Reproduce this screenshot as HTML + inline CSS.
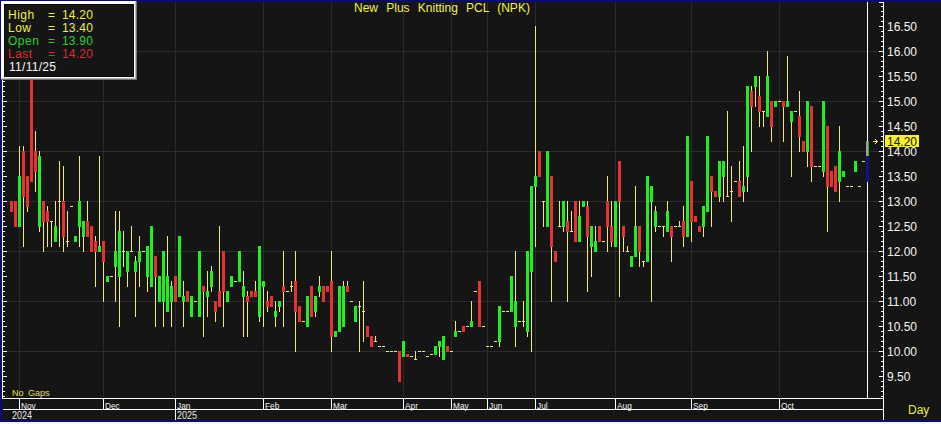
<!DOCTYPE html><html><head><meta charset="utf-8"><style>
html,body{margin:0;padding:0;background:#151515;}
body{width:941px;height:424px;position:relative;overflow:hidden;font-family:"Liberation Sans",sans-serif;}
svg{position:absolute;left:0;top:0;}
.t{position:absolute;white-space:pre;line-height:1;}
.ax{font-size:12px;color:#f4f4ee;left:887px;}
.mo{font-size:9px;color:#f6f6f6;transform:scaleX(0.92);transform-origin:left bottom;}
.yr{font-size:10px;color:#e8e8e8;transform:scaleX(0.9);transform-origin:left bottom;}
.box{position:absolute;left:1px;top:1px;width:130px;height:73px;border:3px solid #fff;border-right-color:#d8d8d8;border-bottom-color:#d8d8d8;background:#151515;}
.bx{font-size:12px;}

</style></head><body>
<svg width="941" height="424" viewBox="0 0 941 424" shape-rendering="crispEdges">
<rect x="3" y="351" width="876" height="1" fill="#2b2b2b"/>
<rect x="3" y="301" width="876" height="1" fill="#2b2b2b"/>
<rect x="3" y="251" width="876" height="1" fill="#2b2b2b"/>
<rect x="3" y="201" width="876" height="1" fill="#2b2b2b"/>
<rect x="3" y="151" width="876" height="1" fill="#2b2b2b"/>
<rect x="3" y="101" width="876" height="1" fill="#2b2b2b"/>
<rect x="3" y="51" width="876" height="1" fill="#2b2b2b"/>
<rect x="19" y="2" width="1" height="396" fill="#2b2b2b"/>
<rect x="103" y="2" width="1" height="396" fill="#2b2b2b"/>
<rect x="175" y="2" width="1" height="396" fill="#2b2b2b"/>
<rect x="263" y="2" width="1" height="396" fill="#2b2b2b"/>
<rect x="331" y="2" width="1" height="396" fill="#2b2b2b"/>
<rect x="403" y="2" width="1" height="396" fill="#2b2b2b"/>
<rect x="451" y="2" width="1" height="396" fill="#2b2b2b"/>
<rect x="487" y="2" width="1" height="396" fill="#2b2b2b"/>
<rect x="535" y="2" width="1" height="396" fill="#2b2b2b"/>
<rect x="615" y="2" width="1" height="396" fill="#2b2b2b"/>
<rect x="691" y="2" width="1" height="396" fill="#2b2b2b"/>
<rect x="779" y="2" width="1" height="396" fill="#2b2b2b"/>
<rect x="11" y="201" width="1" height="11" fill="#f2ea72"/>
<rect x="10" y="201" width="3" height="11" fill="#e83232"/>
<rect x="15" y="201" width="1" height="26" fill="#f2ea72"/>
<rect x="14" y="201" width="3" height="26" fill="#e83232"/>
<rect x="19" y="146" width="1" height="81" fill="#f2ea72"/>
<rect x="18" y="176" width="3" height="51" fill="#20ee20"/>
<rect x="23" y="146" width="1" height="101" fill="#f2ea72"/>
<rect x="22" y="151" width="3" height="46" fill="#e83232"/>
<rect x="27" y="176" width="1" height="36" fill="#f2ea72"/>
<rect x="26" y="176" width="3" height="31" fill="#e83232"/>
<rect x="31" y="71" width="1" height="111" fill="#f2ea72"/>
<rect x="30" y="71" width="3" height="111" fill="#e83232"/>
<rect x="35" y="131" width="1" height="61" fill="#f2ea72"/>
<rect x="34" y="151" width="3" height="21" fill="#e83232"/>
<rect x="39" y="151" width="1" height="81" fill="#f2ea72"/>
<rect x="38" y="156" width="3" height="71" fill="#20ee20"/>
<rect x="43" y="201" width="1" height="51" fill="#f2ea72"/>
<rect x="42" y="201" width="3" height="21" fill="#e83232"/>
<rect x="47" y="206" width="1" height="41" fill="#f2ea72"/>
<rect x="46" y="211" width="3" height="11" fill="#e83232"/>
<rect x="51" y="221" width="1" height="26" fill="#f2ea72"/>
<rect x="50" y="221" width="3" height="1" fill="#f2ea72"/>
<rect x="55" y="201" width="1" height="41" fill="#f2ea72"/>
<rect x="54" y="226" width="3" height="16" fill="#20ee20"/>
<rect x="59" y="161" width="1" height="86" fill="#f2ea72"/>
<rect x="58" y="201" width="3" height="1" fill="#f2ea72"/>
<rect x="63" y="166" width="1" height="86" fill="#f2ea72"/>
<rect x="62" y="201" width="3" height="36" fill="#e83232"/>
<rect x="67" y="211" width="1" height="36" fill="#f2ea72"/>
<rect x="66" y="241" width="3" height="1" fill="#f2ea72"/>
<rect x="70" y="206" width="3" height="1" fill="#f2ea72"/>
<rect x="75" y="236" width="1" height="6" fill="#f2ea72"/>
<rect x="74" y="236" width="3" height="6" fill="#20ee20"/>
<rect x="79" y="156" width="1" height="91" fill="#f2ea72"/>
<rect x="78" y="201" width="3" height="26" fill="#20ee20"/>
<rect x="83" y="221" width="1" height="31" fill="#f2ea72"/>
<rect x="82" y="221" width="3" height="16" fill="#20ee20"/>
<rect x="87" y="201" width="1" height="36" fill="#f2ea72"/>
<rect x="86" y="221" width="3" height="16" fill="#e83232"/>
<rect x="91" y="226" width="1" height="26" fill="#f2ea72"/>
<rect x="90" y="226" width="3" height="26" fill="#e83232"/>
<rect x="95" y="236" width="1" height="51" fill="#f2ea72"/>
<rect x="94" y="241" width="3" height="11" fill="#e83232"/>
<rect x="99" y="156" width="1" height="96" fill="#f2ea72"/>
<rect x="98" y="246" width="3" height="6" fill="#20ee20"/>
<rect x="103" y="241" width="1" height="61" fill="#f2ea72"/>
<rect x="102" y="241" width="3" height="21" fill="#e83232"/>
<rect x="107" y="276" width="1" height="6" fill="#f2ea72"/>
<rect x="106" y="276" width="3" height="6" fill="#20ee20"/>
<rect x="110" y="276" width="3" height="1" fill="#f2ea72"/>
<rect x="115" y="211" width="1" height="91" fill="#f2ea72"/>
<rect x="114" y="251" width="3" height="16" fill="#20ee20"/>
<rect x="119" y="211" width="1" height="116" fill="#f2ea72"/>
<rect x="118" y="231" width="3" height="46" fill="#20ee20"/>
<rect x="123" y="231" width="1" height="36" fill="#f2ea72"/>
<rect x="122" y="251" width="3" height="1" fill="#f2ea72"/>
<rect x="127" y="251" width="1" height="36" fill="#f2ea72"/>
<rect x="126" y="251" width="3" height="21" fill="#20ee20"/>
<rect x="131" y="226" width="1" height="26" fill="#f2ea72"/>
<rect x="130" y="251" width="3" height="1" fill="#f2ea72"/>
<rect x="135" y="256" width="1" height="61" fill="#f2ea72"/>
<rect x="134" y="261" width="3" height="11" fill="#20ee20"/>
<rect x="139" y="236" width="1" height="51" fill="#f2ea72"/>
<rect x="138" y="251" width="3" height="11" fill="#20ee20"/>
<rect x="142" y="251" width="3" height="1" fill="#f2ea72"/>
<rect x="147" y="246" width="1" height="46" fill="#f2ea72"/>
<rect x="146" y="246" width="3" height="31" fill="#20ee20"/>
<rect x="151" y="226" width="1" height="61" fill="#f2ea72"/>
<rect x="150" y="226" width="3" height="61" fill="#20ee20"/>
<rect x="155" y="256" width="1" height="71" fill="#f2ea72"/>
<rect x="154" y="256" width="3" height="21" fill="#e83232"/>
<rect x="159" y="276" width="1" height="26" fill="#f2ea72"/>
<rect x="158" y="276" width="3" height="26" fill="#20ee20"/>
<rect x="163" y="251" width="1" height="76" fill="#f2ea72"/>
<rect x="162" y="251" width="3" height="51" fill="#20ee20"/>
<rect x="167" y="236" width="1" height="76" fill="#f2ea72"/>
<rect x="166" y="276" width="3" height="36" fill="#20ee20"/>
<rect x="171" y="281" width="1" height="46" fill="#f2ea72"/>
<rect x="170" y="286" width="3" height="16" fill="#20ee20"/>
<rect x="175" y="276" width="1" height="26" fill="#f2ea72"/>
<rect x="174" y="276" width="3" height="26" fill="#e83232"/>
<rect x="179" y="236" width="1" height="61" fill="#f2ea72"/>
<rect x="178" y="236" width="3" height="61" fill="#20ee20"/>
<rect x="183" y="281" width="1" height="46" fill="#f2ea72"/>
<rect x="182" y="296" width="3" height="6" fill="#20ee20"/>
<rect x="187" y="291" width="1" height="11" fill="#f2ea72"/>
<rect x="186" y="291" width="3" height="11" fill="#e83232"/>
<rect x="191" y="296" width="1" height="21" fill="#f2ea72"/>
<rect x="190" y="296" width="3" height="21" fill="#20ee20"/>
<rect x="194" y="301" width="3" height="1" fill="#f2ea72"/>
<rect x="199" y="251" width="1" height="66" fill="#f2ea72"/>
<rect x="198" y="251" width="3" height="66" fill="#20ee20"/>
<rect x="203" y="286" width="1" height="51" fill="#f2ea72"/>
<rect x="202" y="286" width="3" height="6" fill="#e83232"/>
<rect x="207" y="271" width="1" height="46" fill="#f2ea72"/>
<rect x="206" y="291" width="3" height="6" fill="#20ee20"/>
<rect x="211" y="266" width="1" height="26" fill="#f2ea72"/>
<rect x="210" y="271" width="3" height="16" fill="#20ee20"/>
<rect x="215" y="301" width="1" height="21" fill="#f2ea72"/>
<rect x="214" y="301" width="3" height="11" fill="#e83232"/>
<rect x="219" y="226" width="1" height="81" fill="#f2ea72"/>
<rect x="218" y="291" width="3" height="16" fill="#e83232"/>
<rect x="223" y="251" width="1" height="76" fill="#f2ea72"/>
<rect x="222" y="251" width="3" height="41" fill="#e83232"/>
<rect x="227" y="291" width="1" height="11" fill="#f2ea72"/>
<rect x="226" y="291" width="3" height="11" fill="#20ee20"/>
<rect x="231" y="276" width="1" height="11" fill="#f2ea72"/>
<rect x="230" y="276" width="3" height="11" fill="#20ee20"/>
<rect x="234" y="281" width="3" height="1" fill="#f2ea72"/>
<rect x="239" y="251" width="1" height="31" fill="#f2ea72"/>
<rect x="238" y="251" width="3" height="31" fill="#20ee20"/>
<rect x="243" y="271" width="1" height="66" fill="#f2ea72"/>
<rect x="242" y="286" width="3" height="11" fill="#20ee20"/>
<rect x="247" y="291" width="1" height="46" fill="#f2ea72"/>
<rect x="246" y="296" width="3" height="6" fill="#e83232"/>
<rect x="251" y="291" width="1" height="6" fill="#f2ea72"/>
<rect x="250" y="291" width="3" height="6" fill="#e83232"/>
<rect x="255" y="281" width="1" height="16" fill="#f2ea72"/>
<rect x="254" y="291" width="3" height="6" fill="#e83232"/>
<rect x="259" y="246" width="1" height="76" fill="#f2ea72"/>
<rect x="258" y="246" width="3" height="71" fill="#20ee20"/>
<rect x="263" y="281" width="1" height="46" fill="#f2ea72"/>
<rect x="262" y="281" width="3" height="6" fill="#20ee20"/>
<rect x="267" y="291" width="1" height="21" fill="#f2ea72"/>
<rect x="266" y="301" width="3" height="6" fill="#e83232"/>
<rect x="271" y="296" width="1" height="11" fill="#f2ea72"/>
<rect x="270" y="296" width="3" height="11" fill="#e83232"/>
<rect x="275" y="301" width="1" height="26" fill="#f2ea72"/>
<rect x="274" y="311" width="3" height="6" fill="#20ee20"/>
<rect x="279" y="301" width="1" height="11" fill="#f2ea72"/>
<rect x="278" y="301" width="3" height="6" fill="#20ee20"/>
<rect x="283" y="251" width="1" height="76" fill="#f2ea72"/>
<rect x="282" y="286" width="3" height="6" fill="#e83232"/>
<rect x="286" y="291" width="3" height="1" fill="#f2ea72"/>
<rect x="291" y="281" width="1" height="11" fill="#f2ea72"/>
<rect x="290" y="286" width="3" height="1" fill="#f2ea72"/>
<rect x="295" y="251" width="1" height="101" fill="#f2ea72"/>
<rect x="294" y="281" width="3" height="31" fill="#e83232"/>
<rect x="299" y="306" width="1" height="16" fill="#f2ea72"/>
<rect x="298" y="306" width="3" height="16" fill="#e83232"/>
<rect x="302" y="321" width="3" height="1" fill="#f2ea72"/>
<rect x="307" y="296" width="1" height="31" fill="#f2ea72"/>
<rect x="306" y="296" width="3" height="31" fill="#20ee20"/>
<rect x="311" y="286" width="1" height="31" fill="#f2ea72"/>
<rect x="310" y="286" width="3" height="31" fill="#e83232"/>
<rect x="315" y="296" width="1" height="21" fill="#f2ea72"/>
<rect x="314" y="296" width="3" height="16" fill="#20ee20"/>
<rect x="319" y="276" width="1" height="21" fill="#f2ea72"/>
<rect x="318" y="286" width="3" height="6" fill="#20ee20"/>
<rect x="323" y="286" width="1" height="16" fill="#f2ea72"/>
<rect x="322" y="286" width="3" height="16" fill="#e83232"/>
<rect x="327" y="286" width="1" height="6" fill="#f2ea72"/>
<rect x="326" y="286" width="3" height="6" fill="#e83232"/>
<rect x="331" y="251" width="1" height="101" fill="#f2ea72"/>
<rect x="330" y="281" width="3" height="56" fill="#e83232"/>
<rect x="335" y="331" width="1" height="6" fill="#f2ea72"/>
<rect x="334" y="331" width="3" height="6" fill="#20ee20"/>
<rect x="339" y="286" width="1" height="46" fill="#f2ea72"/>
<rect x="338" y="286" width="3" height="46" fill="#20ee20"/>
<rect x="343" y="281" width="1" height="46" fill="#f2ea72"/>
<rect x="342" y="286" width="3" height="41" fill="#20ee20"/>
<rect x="347" y="281" width="1" height="11" fill="#f2ea72"/>
<rect x="346" y="286" width="3" height="6" fill="#e83232"/>
<rect x="350" y="301" width="3" height="1" fill="#f2ea72"/>
<rect x="355" y="306" width="1" height="16" fill="#f2ea72"/>
<rect x="354" y="306" width="3" height="16" fill="#20ee20"/>
<rect x="359" y="301" width="1" height="51" fill="#f2ea72"/>
<rect x="358" y="306" width="3" height="1" fill="#f2ea72"/>
<rect x="363" y="281" width="1" height="61" fill="#f2ea72"/>
<rect x="362" y="311" width="3" height="1" fill="#f2ea72"/>
<rect x="367" y="326" width="1" height="11" fill="#f2ea72"/>
<rect x="366" y="326" width="3" height="11" fill="#e83232"/>
<rect x="371" y="336" width="1" height="11" fill="#f2ea72"/>
<rect x="370" y="336" width="3" height="11" fill="#e83232"/>
<rect x="375" y="336" width="1" height="6" fill="#f2ea72"/>
<rect x="374" y="341" width="3" height="1" fill="#f2ea72"/>
<rect x="378" y="346" width="3" height="1" fill="#f2ea72"/>
<rect x="382" y="346" width="3" height="1" fill="#f2ea72"/>
<rect x="386" y="351" width="3" height="1" fill="#f2ea72"/>
<rect x="390" y="351" width="3" height="1" fill="#f2ea72"/>
<rect x="394" y="351" width="3" height="1" fill="#f2ea72"/>
<rect x="399" y="351" width="1" height="31" fill="#f2ea72"/>
<rect x="398" y="351" width="3" height="31" fill="#e83232"/>
<rect x="403" y="341" width="1" height="16" fill="#f2ea72"/>
<rect x="402" y="341" width="3" height="16" fill="#20ee20"/>
<rect x="407" y="353.5" width="1" height="3.5" fill="#f2ea72"/>
<rect x="406" y="353.5" width="3" height="3.5" fill="#e83232"/>
<rect x="410" y="356" width="3" height="1" fill="#f2ea72"/>
<rect x="415" y="351" width="1" height="8.5" fill="#f2ea72"/>
<rect x="414" y="358.5" width="3" height="1" fill="#f2ea72"/>
<rect x="418" y="351" width="3" height="1" fill="#f2ea72"/>
<rect x="422" y="351" width="3" height="1" fill="#f2ea72"/>
<rect x="426" y="356" width="3" height="1" fill="#f2ea72"/>
<rect x="430" y="353.5" width="3" height="1" fill="#f2ea72"/>
<rect x="435" y="346" width="1" height="8.5" fill="#f2ea72"/>
<rect x="434" y="346" width="3" height="8.5" fill="#20ee20"/>
<rect x="439" y="341" width="1" height="16" fill="#f2ea72"/>
<rect x="438" y="341" width="3" height="6" fill="#20ee20"/>
<rect x="443" y="336" width="1" height="23.5" fill="#f2ea72"/>
<rect x="442" y="336" width="3" height="23.5" fill="#20ee20"/>
<rect x="447" y="346" width="1" height="6" fill="#f2ea72"/>
<rect x="446" y="346" width="3" height="6" fill="#e83232"/>
<rect x="450" y="351" width="3" height="1" fill="#f2ea72"/>
<rect x="455" y="321" width="1" height="16" fill="#f2ea72"/>
<rect x="454" y="331" width="3" height="6" fill="#20ee20"/>
<rect x="458" y="331" width="3" height="1" fill="#f2ea72"/>
<rect x="463" y="326" width="1" height="6" fill="#f2ea72"/>
<rect x="462" y="326" width="3" height="6" fill="#e83232"/>
<rect x="466" y="326" width="3" height="1" fill="#f2ea72"/>
<rect x="471" y="301" width="1" height="26" fill="#f2ea72"/>
<rect x="470" y="321" width="3" height="6" fill="#20ee20"/>
<rect x="474" y="291" width="3" height="1" fill="#f2ea72"/>
<rect x="479" y="281" width="1" height="46" fill="#f2ea72"/>
<rect x="478" y="281" width="3" height="46" fill="#e83232"/>
<rect x="482" y="326" width="3" height="1" fill="#f2ea72"/>
<rect x="486" y="346" width="3" height="1" fill="#f2ea72"/>
<rect x="490" y="346" width="3" height="1" fill="#f2ea72"/>
<rect x="494" y="341" width="3" height="1" fill="#f2ea72"/>
<rect x="499" y="306" width="1" height="41" fill="#f2ea72"/>
<rect x="498" y="306" width="3" height="36" fill="#20ee20"/>
<rect x="502" y="311" width="3" height="1" fill="#f2ea72"/>
<rect x="506" y="311" width="3" height="1" fill="#f2ea72"/>
<rect x="511" y="276" width="1" height="36" fill="#f2ea72"/>
<rect x="510" y="276" width="3" height="36" fill="#20ee20"/>
<rect x="515" y="251" width="1" height="96" fill="#f2ea72"/>
<rect x="514" y="301" width="3" height="26" fill="#20ee20"/>
<rect x="518" y="321" width="3" height="1" fill="#f2ea72"/>
<rect x="523" y="301" width="1" height="26" fill="#f2ea72"/>
<rect x="522" y="321" width="3" height="1" fill="#f2ea72"/>
<rect x="527" y="251" width="1" height="86" fill="#f2ea72"/>
<rect x="526" y="251" width="3" height="81" fill="#20ee20"/>
<rect x="531" y="186" width="1" height="166" fill="#f2ea72"/>
<rect x="530" y="186" width="3" height="86" fill="#20ee20"/>
<rect x="535" y="26" width="1" height="221" fill="#f2ea72"/>
<rect x="534" y="176" width="3" height="11" fill="#20ee20"/>
<rect x="539" y="151" width="1" height="26" fill="#f2ea72"/>
<rect x="538" y="151" width="3" height="26" fill="#e83232"/>
<rect x="543" y="201" width="1" height="26" fill="#f2ea72"/>
<rect x="542" y="201" width="3" height="1" fill="#f2ea72"/>
<rect x="547" y="151" width="1" height="76" fill="#f2ea72"/>
<rect x="546" y="151" width="3" height="76" fill="#20ee20"/>
<rect x="551" y="176" width="1" height="126" fill="#f2ea72"/>
<rect x="550" y="176" width="3" height="71" fill="#e83232"/>
<rect x="555" y="251" width="1" height="11" fill="#f2ea72"/>
<rect x="554" y="251" width="3" height="11" fill="#e83232"/>
<rect x="559" y="201" width="1" height="26" fill="#f2ea72"/>
<rect x="558" y="226" width="3" height="1" fill="#f2ea72"/>
<rect x="563" y="201" width="1" height="31" fill="#f2ea72"/>
<rect x="562" y="201" width="3" height="26" fill="#20ee20"/>
<rect x="567" y="201" width="1" height="101" fill="#f2ea72"/>
<rect x="566" y="221" width="3" height="11" fill="#e83232"/>
<rect x="571" y="211" width="1" height="21" fill="#f2ea72"/>
<rect x="570" y="231" width="3" height="1" fill="#f2ea72"/>
<rect x="575" y="201" width="1" height="41" fill="#f2ea72"/>
<rect x="574" y="201" width="3" height="41" fill="#e83232"/>
<rect x="579" y="201" width="1" height="41" fill="#f2ea72"/>
<rect x="578" y="216" width="3" height="26" fill="#20ee20"/>
<rect x="583" y="201" width="1" height="6" fill="#f2ea72"/>
<rect x="582" y="201" width="3" height="6" fill="#20ee20"/>
<rect x="587" y="201" width="1" height="91" fill="#f2ea72"/>
<rect x="586" y="206" width="3" height="31" fill="#e83232"/>
<rect x="591" y="226" width="1" height="51" fill="#f2ea72"/>
<rect x="590" y="226" width="3" height="21" fill="#20ee20"/>
<rect x="595" y="226" width="1" height="26" fill="#f2ea72"/>
<rect x="594" y="241" width="3" height="11" fill="#20ee20"/>
<rect x="599" y="226" width="1" height="16" fill="#f2ea72"/>
<rect x="598" y="226" width="3" height="16" fill="#e83232"/>
<rect x="602" y="241" width="3" height="1" fill="#f2ea72"/>
<rect x="607" y="176" width="1" height="76" fill="#f2ea72"/>
<rect x="606" y="201" width="3" height="26" fill="#e83232"/>
<rect x="611" y="201" width="1" height="46" fill="#f2ea72"/>
<rect x="610" y="226" width="3" height="16" fill="#e83232"/>
<rect x="615" y="201" width="1" height="46" fill="#f2ea72"/>
<rect x="614" y="201" width="3" height="46" fill="#20ee20"/>
<rect x="619" y="161" width="1" height="136" fill="#f2ea72"/>
<rect x="618" y="161" width="3" height="41" fill="#e83232"/>
<rect x="623" y="226" width="1" height="26" fill="#f2ea72"/>
<rect x="622" y="226" width="3" height="11" fill="#e83232"/>
<rect x="627" y="246" width="1" height="6" fill="#f2ea72"/>
<rect x="626" y="251" width="3" height="1" fill="#f2ea72"/>
<rect x="631" y="256" width="1" height="11" fill="#f2ea72"/>
<rect x="630" y="256" width="3" height="11" fill="#20ee20"/>
<rect x="635" y="186" width="1" height="71" fill="#f2ea72"/>
<rect x="634" y="226" width="3" height="31" fill="#20ee20"/>
<rect x="639" y="226" width="1" height="41" fill="#f2ea72"/>
<rect x="638" y="226" width="3" height="26" fill="#e83232"/>
<rect x="643" y="261" width="1" height="6" fill="#f2ea72"/>
<rect x="642" y="261" width="3" height="1" fill="#f2ea72"/>
<rect x="647" y="176" width="1" height="86" fill="#f2ea72"/>
<rect x="646" y="176" width="3" height="86" fill="#20ee20"/>
<rect x="651" y="186" width="1" height="116" fill="#f2ea72"/>
<rect x="650" y="186" width="3" height="16" fill="#20ee20"/>
<rect x="655" y="206" width="1" height="26" fill="#f2ea72"/>
<rect x="654" y="211" width="3" height="16" fill="#20ee20"/>
<rect x="658" y="226" width="3" height="1" fill="#f2ea72"/>
<rect x="663" y="226" width="1" height="11" fill="#f2ea72"/>
<rect x="662" y="226" width="3" height="1" fill="#f2ea72"/>
<rect x="667" y="201" width="1" height="31" fill="#f2ea72"/>
<rect x="666" y="211" width="3" height="21" fill="#20ee20"/>
<rect x="671" y="226" width="1" height="36" fill="#f2ea72"/>
<rect x="670" y="226" width="3" height="11" fill="#e83232"/>
<rect x="674" y="226" width="3" height="1" fill="#f2ea72"/>
<rect x="679" y="221" width="1" height="6" fill="#f2ea72"/>
<rect x="678" y="226" width="3" height="1" fill="#f2ea72"/>
<rect x="683" y="206" width="1" height="41" fill="#f2ea72"/>
<rect x="682" y="221" width="3" height="16" fill="#e83232"/>
<rect x="687" y="136" width="1" height="101" fill="#f2ea72"/>
<rect x="686" y="136" width="3" height="101" fill="#20ee20"/>
<rect x="691" y="181" width="1" height="61" fill="#f2ea72"/>
<rect x="690" y="181" width="3" height="41" fill="#e83232"/>
<rect x="695" y="216" width="1" height="6" fill="#f2ea72"/>
<rect x="694" y="216" width="3" height="6" fill="#e83232"/>
<rect x="699" y="226" width="1" height="6" fill="#f2ea72"/>
<rect x="698" y="226" width="3" height="6" fill="#e83232"/>
<rect x="703" y="206" width="1" height="31" fill="#f2ea72"/>
<rect x="702" y="206" width="3" height="21" fill="#20ee20"/>
<rect x="707" y="136" width="1" height="76" fill="#f2ea72"/>
<rect x="706" y="136" width="3" height="76" fill="#20ee20"/>
<rect x="711" y="176" width="1" height="51" fill="#f2ea72"/>
<rect x="710" y="176" width="3" height="16" fill="#e83232"/>
<rect x="715" y="191" width="1" height="6" fill="#f2ea72"/>
<rect x="714" y="191" width="3" height="6" fill="#e83232"/>
<rect x="719" y="161" width="1" height="41" fill="#f2ea72"/>
<rect x="718" y="161" width="3" height="36" fill="#20ee20"/>
<rect x="723" y="161" width="1" height="41" fill="#f2ea72"/>
<rect x="722" y="161" width="3" height="16" fill="#20ee20"/>
<rect x="727" y="111" width="1" height="86" fill="#f2ea72"/>
<rect x="726" y="196" width="3" height="1" fill="#f2ea72"/>
<rect x="731" y="166" width="1" height="56" fill="#f2ea72"/>
<rect x="730" y="191" width="3" height="1" fill="#f2ea72"/>
<rect x="734" y="181" width="3" height="1" fill="#f2ea72"/>
<rect x="739" y="161" width="1" height="36" fill="#f2ea72"/>
<rect x="738" y="181" width="3" height="16" fill="#e83232"/>
<rect x="743" y="146" width="1" height="56" fill="#f2ea72"/>
<rect x="742" y="186" width="3" height="6" fill="#20ee20"/>
<rect x="747" y="86" width="1" height="106" fill="#f2ea72"/>
<rect x="746" y="86" width="3" height="91" fill="#20ee20"/>
<rect x="751" y="86" width="1" height="66" fill="#f2ea72"/>
<rect x="750" y="91" width="3" height="16" fill="#e83232"/>
<rect x="755" y="76" width="1" height="31" fill="#f2ea72"/>
<rect x="754" y="76" width="3" height="11" fill="#20ee20"/>
<rect x="759" y="76" width="1" height="51" fill="#f2ea72"/>
<rect x="758" y="96" width="3" height="16" fill="#e83232"/>
<rect x="763" y="111" width="1" height="16" fill="#f2ea72"/>
<rect x="762" y="111" width="3" height="1" fill="#f2ea72"/>
<rect x="767" y="51" width="1" height="66" fill="#f2ea72"/>
<rect x="766" y="76" width="3" height="41" fill="#20ee20"/>
<rect x="771" y="101" width="1" height="41" fill="#f2ea72"/>
<rect x="770" y="101" width="3" height="26" fill="#e83232"/>
<rect x="775" y="101" width="1" height="6" fill="#f2ea72"/>
<rect x="774" y="101" width="3" height="6" fill="#20ee20"/>
<rect x="778" y="101" width="3" height="1" fill="#f2ea72"/>
<rect x="783" y="101" width="1" height="41" fill="#f2ea72"/>
<rect x="782" y="101" width="3" height="6" fill="#e83232"/>
<rect x="787" y="56" width="1" height="51" fill="#f2ea72"/>
<rect x="786" y="101" width="3" height="6" fill="#20ee20"/>
<rect x="791" y="111" width="1" height="66" fill="#f2ea72"/>
<rect x="790" y="111" width="3" height="11" fill="#20ee20"/>
<rect x="794" y="111" width="3" height="1" fill="#f2ea72"/>
<rect x="799" y="91" width="1" height="61" fill="#f2ea72"/>
<rect x="798" y="116" width="3" height="21" fill="#e83232"/>
<rect x="803" y="141" width="1" height="11" fill="#f2ea72"/>
<rect x="802" y="141" width="3" height="11" fill="#e83232"/>
<rect x="807" y="101" width="1" height="66" fill="#f2ea72"/>
<rect x="806" y="101" width="3" height="51" fill="#20ee20"/>
<rect x="811" y="106" width="1" height="76" fill="#f2ea72"/>
<rect x="810" y="106" width="3" height="61" fill="#e83232"/>
<rect x="814" y="166" width="3" height="1" fill="#f2ea72"/>
<rect x="818" y="166" width="3" height="1" fill="#f2ea72"/>
<rect x="823" y="101" width="1" height="76" fill="#f2ea72"/>
<rect x="822" y="101" width="3" height="71" fill="#20ee20"/>
<rect x="827" y="126" width="1" height="106" fill="#f2ea72"/>
<rect x="826" y="126" width="3" height="61" fill="#e83232"/>
<rect x="831" y="171" width="1" height="16" fill="#f2ea72"/>
<rect x="830" y="171" width="3" height="16" fill="#e83232"/>
<rect x="835" y="166" width="1" height="26" fill="#f2ea72"/>
<rect x="834" y="166" width="3" height="26" fill="#e83232"/>
<rect x="839" y="126" width="1" height="76" fill="#f2ea72"/>
<rect x="838" y="151" width="3" height="31" fill="#20ee20"/>
<rect x="843" y="171" width="1" height="6" fill="#f2ea72"/>
<rect x="842" y="171" width="3" height="6" fill="#20ee20"/>
<rect x="846" y="186" width="3" height="1" fill="#f2ea72"/>
<rect x="850" y="186" width="3" height="1" fill="#f2ea72"/>
<rect x="855" y="161" width="1" height="11" fill="#f2ea72"/>
<rect x="854" y="161" width="3" height="11" fill="#20ee20"/>
<rect x="858" y="186" width="3" height="1" fill="#f2ea72"/>
<rect x="862" y="161" width="3" height="1" fill="#f2ea72"/>
<rect x="867" y="2" width="1" height="396" fill="#ffffff"/>
<rect x="866" y="141" width="2" height="15" fill="#a0a0a0"/>
<rect x="868" y="141" width="1" height="15" fill="#2cb02c"/>
<rect x="866" y="156" width="3" height="26" fill="#101090"/>
<rect x="873" y="141" width="5" height="1" fill="#f4ee30"/>
<rect x="876" y="140" width="1" height="1" fill="#f4ee30"/>
<rect x="875" y="139" width="1" height="1" fill="#f4ee30"/>
<rect x="876" y="142" width="1" height="1" fill="#f4ee30"/>
<rect x="875" y="143" width="1" height="1" fill="#f4ee30"/>
<rect x="2" y="2" width="1" height="397" fill="#ffffff"/>
<rect x="883" y="2" width="1" height="418" fill="#ffffff"/>
<rect x="2" y="398" width="882" height="1" fill="#ffffff"/>
<rect x="3" y="409" width="881" height="1" fill="#ffffff"/>
<rect x="3" y="6" width="2" height="1" fill="#ffffff"/>
<rect x="881" y="6" width="2" height="1" fill="#ffffff"/>
<rect x="3" y="11" width="2" height="1" fill="#ffffff"/>
<rect x="881" y="11" width="2" height="1" fill="#ffffff"/>
<rect x="3" y="16" width="2" height="1" fill="#ffffff"/>
<rect x="881" y="16" width="2" height="1" fill="#ffffff"/>
<rect x="3" y="21" width="2" height="1" fill="#ffffff"/>
<rect x="881" y="21" width="2" height="1" fill="#ffffff"/>
<rect x="3" y="26" width="4" height="1" fill="#ffffff"/>
<rect x="879" y="26" width="4" height="1" fill="#ffffff"/>
<rect x="3" y="31" width="2" height="1" fill="#ffffff"/>
<rect x="881" y="31" width="2" height="1" fill="#ffffff"/>
<rect x="3" y="36" width="2" height="1" fill="#ffffff"/>
<rect x="881" y="36" width="2" height="1" fill="#ffffff"/>
<rect x="3" y="41" width="2" height="1" fill="#ffffff"/>
<rect x="881" y="41" width="2" height="1" fill="#ffffff"/>
<rect x="3" y="46" width="2" height="1" fill="#ffffff"/>
<rect x="881" y="46" width="2" height="1" fill="#ffffff"/>
<rect x="3" y="51" width="4" height="1" fill="#ffffff"/>
<rect x="879" y="51" width="4" height="1" fill="#ffffff"/>
<rect x="3" y="56" width="2" height="1" fill="#ffffff"/>
<rect x="881" y="56" width="2" height="1" fill="#ffffff"/>
<rect x="3" y="61" width="2" height="1" fill="#ffffff"/>
<rect x="881" y="61" width="2" height="1" fill="#ffffff"/>
<rect x="3" y="66" width="2" height="1" fill="#ffffff"/>
<rect x="881" y="66" width="2" height="1" fill="#ffffff"/>
<rect x="3" y="71" width="2" height="1" fill="#ffffff"/>
<rect x="881" y="71" width="2" height="1" fill="#ffffff"/>
<rect x="3" y="76" width="4" height="1" fill="#ffffff"/>
<rect x="879" y="76" width="4" height="1" fill="#ffffff"/>
<rect x="3" y="81" width="2" height="1" fill="#ffffff"/>
<rect x="881" y="81" width="2" height="1" fill="#ffffff"/>
<rect x="3" y="86" width="2" height="1" fill="#ffffff"/>
<rect x="881" y="86" width="2" height="1" fill="#ffffff"/>
<rect x="3" y="91" width="2" height="1" fill="#ffffff"/>
<rect x="881" y="91" width="2" height="1" fill="#ffffff"/>
<rect x="3" y="96" width="2" height="1" fill="#ffffff"/>
<rect x="881" y="96" width="2" height="1" fill="#ffffff"/>
<rect x="3" y="101" width="4" height="1" fill="#ffffff"/>
<rect x="879" y="101" width="4" height="1" fill="#ffffff"/>
<rect x="3" y="106" width="2" height="1" fill="#ffffff"/>
<rect x="881" y="106" width="2" height="1" fill="#ffffff"/>
<rect x="3" y="111" width="2" height="1" fill="#ffffff"/>
<rect x="881" y="111" width="2" height="1" fill="#ffffff"/>
<rect x="3" y="116" width="2" height="1" fill="#ffffff"/>
<rect x="881" y="116" width="2" height="1" fill="#ffffff"/>
<rect x="3" y="121" width="2" height="1" fill="#ffffff"/>
<rect x="881" y="121" width="2" height="1" fill="#ffffff"/>
<rect x="3" y="126" width="4" height="1" fill="#ffffff"/>
<rect x="879" y="126" width="4" height="1" fill="#ffffff"/>
<rect x="3" y="131" width="2" height="1" fill="#ffffff"/>
<rect x="881" y="131" width="2" height="1" fill="#ffffff"/>
<rect x="3" y="136" width="2" height="1" fill="#ffffff"/>
<rect x="881" y="136" width="2" height="1" fill="#ffffff"/>
<rect x="3" y="141" width="2" height="1" fill="#ffffff"/>
<rect x="881" y="141" width="2" height="1" fill="#ffffff"/>
<rect x="3" y="146" width="2" height="1" fill="#ffffff"/>
<rect x="881" y="146" width="2" height="1" fill="#ffffff"/>
<rect x="3" y="151" width="4" height="1" fill="#ffffff"/>
<rect x="879" y="151" width="4" height="1" fill="#ffffff"/>
<rect x="3" y="156" width="2" height="1" fill="#ffffff"/>
<rect x="881" y="156" width="2" height="1" fill="#ffffff"/>
<rect x="3" y="161" width="2" height="1" fill="#ffffff"/>
<rect x="881" y="161" width="2" height="1" fill="#ffffff"/>
<rect x="3" y="166" width="2" height="1" fill="#ffffff"/>
<rect x="881" y="166" width="2" height="1" fill="#ffffff"/>
<rect x="3" y="171" width="2" height="1" fill="#ffffff"/>
<rect x="881" y="171" width="2" height="1" fill="#ffffff"/>
<rect x="3" y="176" width="4" height="1" fill="#ffffff"/>
<rect x="879" y="176" width="4" height="1" fill="#ffffff"/>
<rect x="3" y="181" width="2" height="1" fill="#ffffff"/>
<rect x="881" y="181" width="2" height="1" fill="#ffffff"/>
<rect x="3" y="186" width="2" height="1" fill="#ffffff"/>
<rect x="881" y="186" width="2" height="1" fill="#ffffff"/>
<rect x="3" y="191" width="2" height="1" fill="#ffffff"/>
<rect x="881" y="191" width="2" height="1" fill="#ffffff"/>
<rect x="3" y="196" width="2" height="1" fill="#ffffff"/>
<rect x="881" y="196" width="2" height="1" fill="#ffffff"/>
<rect x="3" y="201" width="4" height="1" fill="#ffffff"/>
<rect x="879" y="201" width="4" height="1" fill="#ffffff"/>
<rect x="3" y="206" width="2" height="1" fill="#ffffff"/>
<rect x="881" y="206" width="2" height="1" fill="#ffffff"/>
<rect x="3" y="211" width="2" height="1" fill="#ffffff"/>
<rect x="881" y="211" width="2" height="1" fill="#ffffff"/>
<rect x="3" y="216" width="2" height="1" fill="#ffffff"/>
<rect x="881" y="216" width="2" height="1" fill="#ffffff"/>
<rect x="3" y="221" width="2" height="1" fill="#ffffff"/>
<rect x="881" y="221" width="2" height="1" fill="#ffffff"/>
<rect x="3" y="226" width="4" height="1" fill="#ffffff"/>
<rect x="879" y="226" width="4" height="1" fill="#ffffff"/>
<rect x="3" y="231" width="2" height="1" fill="#ffffff"/>
<rect x="881" y="231" width="2" height="1" fill="#ffffff"/>
<rect x="3" y="236" width="2" height="1" fill="#ffffff"/>
<rect x="881" y="236" width="2" height="1" fill="#ffffff"/>
<rect x="3" y="241" width="2" height="1" fill="#ffffff"/>
<rect x="881" y="241" width="2" height="1" fill="#ffffff"/>
<rect x="3" y="246" width="2" height="1" fill="#ffffff"/>
<rect x="881" y="246" width="2" height="1" fill="#ffffff"/>
<rect x="3" y="251" width="4" height="1" fill="#ffffff"/>
<rect x="879" y="251" width="4" height="1" fill="#ffffff"/>
<rect x="3" y="256" width="2" height="1" fill="#ffffff"/>
<rect x="881" y="256" width="2" height="1" fill="#ffffff"/>
<rect x="3" y="261" width="2" height="1" fill="#ffffff"/>
<rect x="881" y="261" width="2" height="1" fill="#ffffff"/>
<rect x="3" y="266" width="2" height="1" fill="#ffffff"/>
<rect x="881" y="266" width="2" height="1" fill="#ffffff"/>
<rect x="3" y="271" width="2" height="1" fill="#ffffff"/>
<rect x="881" y="271" width="2" height="1" fill="#ffffff"/>
<rect x="3" y="276" width="4" height="1" fill="#ffffff"/>
<rect x="879" y="276" width="4" height="1" fill="#ffffff"/>
<rect x="3" y="281" width="2" height="1" fill="#ffffff"/>
<rect x="881" y="281" width="2" height="1" fill="#ffffff"/>
<rect x="3" y="286" width="2" height="1" fill="#ffffff"/>
<rect x="881" y="286" width="2" height="1" fill="#ffffff"/>
<rect x="3" y="291" width="2" height="1" fill="#ffffff"/>
<rect x="881" y="291" width="2" height="1" fill="#ffffff"/>
<rect x="3" y="296" width="2" height="1" fill="#ffffff"/>
<rect x="881" y="296" width="2" height="1" fill="#ffffff"/>
<rect x="3" y="301" width="4" height="1" fill="#ffffff"/>
<rect x="879" y="301" width="4" height="1" fill="#ffffff"/>
<rect x="3" y="306" width="2" height="1" fill="#ffffff"/>
<rect x="881" y="306" width="2" height="1" fill="#ffffff"/>
<rect x="3" y="311" width="2" height="1" fill="#ffffff"/>
<rect x="881" y="311" width="2" height="1" fill="#ffffff"/>
<rect x="3" y="316" width="2" height="1" fill="#ffffff"/>
<rect x="881" y="316" width="2" height="1" fill="#ffffff"/>
<rect x="3" y="321" width="2" height="1" fill="#ffffff"/>
<rect x="881" y="321" width="2" height="1" fill="#ffffff"/>
<rect x="3" y="326" width="4" height="1" fill="#ffffff"/>
<rect x="879" y="326" width="4" height="1" fill="#ffffff"/>
<rect x="3" y="331" width="2" height="1" fill="#ffffff"/>
<rect x="881" y="331" width="2" height="1" fill="#ffffff"/>
<rect x="3" y="336" width="2" height="1" fill="#ffffff"/>
<rect x="881" y="336" width="2" height="1" fill="#ffffff"/>
<rect x="3" y="341" width="2" height="1" fill="#ffffff"/>
<rect x="881" y="341" width="2" height="1" fill="#ffffff"/>
<rect x="3" y="346" width="2" height="1" fill="#ffffff"/>
<rect x="881" y="346" width="2" height="1" fill="#ffffff"/>
<rect x="3" y="351" width="4" height="1" fill="#ffffff"/>
<rect x="879" y="351" width="4" height="1" fill="#ffffff"/>
<rect x="3" y="356" width="2" height="1" fill="#ffffff"/>
<rect x="881" y="356" width="2" height="1" fill="#ffffff"/>
<rect x="3" y="361" width="2" height="1" fill="#ffffff"/>
<rect x="881" y="361" width="2" height="1" fill="#ffffff"/>
<rect x="3" y="366" width="2" height="1" fill="#ffffff"/>
<rect x="881" y="366" width="2" height="1" fill="#ffffff"/>
<rect x="3" y="371" width="2" height="1" fill="#ffffff"/>
<rect x="881" y="371" width="2" height="1" fill="#ffffff"/>
<rect x="3" y="376" width="4" height="1" fill="#ffffff"/>
<rect x="879" y="376" width="4" height="1" fill="#ffffff"/>
<rect x="3" y="381" width="2" height="1" fill="#ffffff"/>
<rect x="881" y="381" width="2" height="1" fill="#ffffff"/>
<rect x="3" y="386" width="2" height="1" fill="#ffffff"/>
<rect x="881" y="386" width="2" height="1" fill="#ffffff"/>
<rect x="3" y="391" width="2" height="1" fill="#ffffff"/>
<rect x="881" y="391" width="2" height="1" fill="#ffffff"/>
<rect x="3" y="396" width="2" height="1" fill="#ffffff"/>
<rect x="881" y="396" width="2" height="1" fill="#ffffff"/>
<rect x="879" y="2" width="4" height="1" fill="#ffffff"/>
<rect x="19" y="398" width="1" height="11" fill="#ffffff"/>
<rect x="103" y="398" width="1" height="11" fill="#ffffff"/>
<rect x="175" y="398" width="1" height="22" fill="#ffffff"/>
<rect x="263" y="398" width="1" height="11" fill="#ffffff"/>
<rect x="331" y="398" width="1" height="11" fill="#ffffff"/>
<rect x="403" y="398" width="1" height="11" fill="#ffffff"/>
<rect x="451" y="398" width="1" height="11" fill="#ffffff"/>
<rect x="487" y="398" width="1" height="11" fill="#ffffff"/>
<rect x="535" y="398" width="1" height="11" fill="#ffffff"/>
<rect x="615" y="398" width="1" height="11" fill="#ffffff"/>
<rect x="691" y="398" width="1" height="11" fill="#ffffff"/>
<rect x="779" y="398" width="1" height="11" fill="#ffffff"/>
<rect x="0" y="0" width="941" height="2" fill="#0a0a78"/>
<rect x="0" y="0" width="2" height="424" fill="#0a0a78"/>
<rect x="0" y="420" width="941" height="2" fill="#0a0a78"/>
<rect x="0" y="422" width="941" height="2" fill="#f4f4f4"/>
<rect x="1" y="1" width="136" height="79" fill="#ffffff"/>
<rect x="135" y="2" width="1" height="77" fill="#b8b8b8"/>
<rect x="2" y="78" width="134" height="1" fill="#b8b8b8"/>
<rect x="136" y="1" width="1" height="79" fill="#747474"/>
<rect x="1" y="79" width="136" height="1" fill="#747474"/>
<rect x="4" y="4" width="130" height="73" fill="#070707"/>
<rect x="5" y="5" width="128" height="71" fill="#151515"/>
</svg>
<div class="t ax" style="top:21px">16.50</div>
<div class="t ax" style="top:46px">16.00</div>
<div class="t ax" style="top:71px">15.50</div>
<div class="t ax" style="top:96px">15.00</div>
<div class="t ax" style="top:121px">14.50</div>
<div class="t ax" style="top:146px">14.00</div>
<div class="t ax" style="top:171px">13.50</div>
<div class="t ax" style="top:196px">13.00</div>
<div class="t ax" style="top:221px">12.50</div>
<div class="t ax" style="top:246px">12.00</div>
<div class="t ax" style="top:271px">11.50</div>
<div class="t ax" style="top:296px">11.00</div>
<div class="t ax" style="top:321px">10.50</div>
<div class="t ax" style="top:346px">10.00</div>
<div class="t ax" style="top:371px">9.50</div>
<div class="t" style="left:885px;top:135px;width:34px;height:12px;background:#f8f222;"></div>
<div class="t" style="left:887px;top:136px;font-size:12px;color:#141414;">14.20</div>
<div class="t" style="left:354px;top:2px;font-size:12px;color:#f4f43c;word-spacing:4.9px;">New Plus Knitting PCL (NPK)</div>
<div class="t bx" style="left:8px;top:9px;letter-spacing:0.5px;color:#f0f040">High</div>
<div class="t bx" style="left:48px;top:9px;color:#f0f040">=</div>
<div class="t bx" style="left:62px;top:9px;letter-spacing:0.2px;color:#f0f040">14.20</div>
<div class="t bx" style="left:8px;top:22px;letter-spacing:0.5px;color:#f0f040">Low</div>
<div class="t bx" style="left:48px;top:22px;color:#f0f040">=</div>
<div class="t bx" style="left:62px;top:22px;letter-spacing:0.2px;color:#f0f040">13.40</div>
<div class="t bx" style="left:8px;top:35px;letter-spacing:0.5px;color:#28d228">Open</div>
<div class="t bx" style="left:48px;top:35px;color:#28d228">=</div>
<div class="t bx" style="left:62px;top:35px;letter-spacing:0.2px;color:#28d228">13.90</div>
<div class="t bx" style="left:8px;top:48px;letter-spacing:0.5px;color:#dc3030">Last</div>
<div class="t bx" style="left:48px;top:48px;color:#dc3030">=</div>
<div class="t bx" style="left:62px;top:48px;letter-spacing:0.2px;color:#dc3030">14.20</div>
<div class="t bx" style="left:9px;top:61px;letter-spacing:0.28px;color:#f8f8f8">11/11/25</div>
<div class="t" style="left:12px;top:389px;font-size:9px;color:#e4e428;word-spacing:2px;">No Gaps</div>
<div class="t mo" style="left:21px;top:402px">Nov</div>
<div class="t mo" style="left:105px;top:402px">Dec</div>
<div class="t mo" style="left:177px;top:402px">Jan</div>
<div class="t mo" style="left:265px;top:402px">Feb</div>
<div class="t mo" style="left:333px;top:402px">Mar</div>
<div class="t mo" style="left:405px;top:402px">Apr</div>
<div class="t mo" style="left:453px;top:402px">May</div>
<div class="t mo" style="left:489px;top:402px">Jun</div>
<div class="t mo" style="left:537px;top:402px">Jul</div>
<div class="t mo" style="left:617px;top:402px">Aug</div>
<div class="t mo" style="left:693px;top:402px">Sep</div>
<div class="t mo" style="left:781px;top:402px">Oct</div>
<div class="t yr" style="left:12px;top:411px">2024</div>
<div class="t yr" style="left:177px;top:411px">2025</div>
<div class="t" style="left:908px;top:404px;font-size:12px;color:#f0ec44;">Day</div>
</body></html>
